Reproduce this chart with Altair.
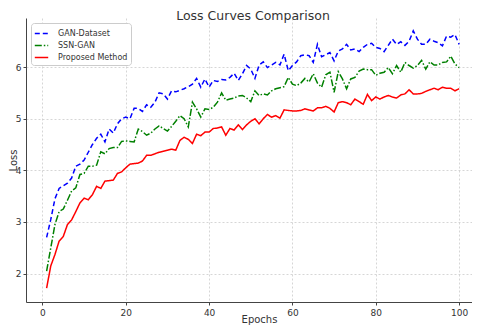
import altair as alt
import pandas as pd

epochs = list(range(1, 101))

gan_dataset = [
    2.70, 3.05, 3.45, 3.65, 3.70, 3.75, 3.85, 4.08, 4.12, 4.20,
    4.35, 4.50, 4.62, 4.70, 4.55, 4.80, 4.72, 4.90, 5.00, 5.03,
    5.00, 5.20, 5.20, 5.14, 5.27, 5.22, 5.32, 5.50, 5.48, 5.38,
    5.54, 5.52, 5.55, 5.58, 5.62, 5.67, 5.78, 5.61, 5.77, 5.61,
    5.74, 5.72, 5.76, 5.75, 5.80, 5.88, 5.74, 5.87, 6.03, 5.96,
    5.78, 6.04, 6.10, 5.99, 6.04, 6.09, 6.04, 6.25, 5.93, 6.03,
    6.10, 6.22, 6.24, 6.22, 6.09, 6.44, 6.20, 6.24, 6.28, 6.12,
    6.31, 6.35, 6.44, 6.33, 6.35, 6.30, 6.38, 6.44, 6.46, 6.38,
    6.36, 6.30, 6.42, 6.54, 6.44, 6.49, 6.42, 6.50, 6.70, 6.54,
    6.44, 6.44, 6.54, 6.50, 6.47, 6.41, 6.60, 6.58, 6.63, 6.44,
]

ssn_gan = [
    2.05, 2.50, 2.95, 3.20, 3.25, 3.42, 3.60, 3.66, 3.92, 3.94,
    4.08, 4.08, 4.10, 4.36, 4.32, 4.42, 4.44, 4.44, 4.56, 4.57,
    4.56, 4.55, 4.80, 4.75, 4.68, 4.72, 4.80, 4.86, 4.81, 4.76,
    4.85, 4.95, 5.06, 5.00, 4.84, 5.32, 5.19, 5.03, 5.19, 5.18,
    5.22, 5.32, 5.50, 5.36, 5.38, 5.40, 5.44, 5.45, 5.40, 5.33,
    5.54, 5.45, 5.48, 5.46, 5.54, 5.58, 5.60, 5.62, 5.80, 5.67,
    5.64, 5.69, 5.78, 5.71, 5.87, 5.69, 5.61, 5.85, 5.90, 5.51,
    5.91, 5.77, 5.58, 5.77, 5.80, 5.92, 5.96, 5.95, 5.95, 5.84,
    5.88, 5.90, 5.99, 5.87, 6.03, 5.90, 6.09, 6.03, 5.98, 6.03,
    6.13, 5.96, 6.10, 6.04, 6.04, 6.09, 6.10, 6.21, 6.06, 5.99,
]

proposed = [
    1.72, 2.15, 2.37, 2.63, 2.72, 2.95, 3.04, 3.20, 3.37, 3.46,
    3.43, 3.53, 3.69, 3.65, 3.79, 3.80, 3.81, 3.94, 3.97, 4.05,
    4.12, 4.13, 4.14, 4.18, 4.29, 4.29, 4.32, 4.35, 4.37, 4.39,
    4.41, 4.39, 4.58, 4.64, 4.60, 4.52, 4.70, 4.67, 4.74, 4.74,
    4.81, 4.82, 4.84, 4.68, 4.81, 4.78, 4.88, 4.79, 4.88, 4.95,
    5.00, 4.90, 5.00, 5.08, 5.03, 5.06, 5.01, 5.17, 5.16, 5.15,
    5.15, 5.16, 5.19, 5.17, 5.15, 5.21, 5.21, 5.24, 5.20, 5.13,
    5.31, 5.33, 5.31, 5.27, 5.38, 5.33, 5.28, 5.47, 5.35, 5.42,
    5.38, 5.42, 5.45, 5.42, 5.40, 5.46, 5.48, 5.56, 5.48, 5.48,
    5.49, 5.53, 5.56, 5.59, 5.56, 5.61, 5.59, 5.59, 5.54, 5.58,
]

series_names = ["GAN-Dataset", "SSN-GAN", "Proposed Method"]
series_colors = ["#0000ff", "#008000", "#ff0000"]
series_dashes = [[5, 3], [7, 2, 1.5, 2], [1, 0]]
x_ticks = [0, 20, 40, 60, 80, 100]
y_ticks = [2, 3, 4, 5, 6]

rows = []
for name, vals in zip(series_names, [gan_dataset, ssn_gan, proposed]):
    for e, v in zip(epochs, vals):
        rows.append({"Epoch": e, "Loss": v, "Series": name})
df = pd.DataFrame(rows)

FONT = "DejaVu Sans"
PLOT_W = 446
PLOT_H = 284
legend = alt.Legend(
    title=None,
    orient="top-left",
    offset=5,
    padding=3,
    labelFontSize=8,
    labelFont=FONT,
    labelColor="#333333",
    labelOffset=9,
    symbolSize=180,
    symbolStrokeWidth=1.5,
    rowPadding=0,
    strokeColor="#cccccc",
    fillColor="white",
    cornerRadius=3,
)

chart = (
    alt.Chart(df)
    .mark_line(strokeWidth=1.5)
    .encode(
        x=alt.X(
            "Epoch:Q",
            scale=alt.Scale(domain=[-3.95, 103.1], nice=False, zero=False),
            axis=alt.Axis(
                values=x_ticks,
                title="Epochs",
                format="d",
                labelPadding=3,
                titleX=233,
                titleY=20,
                titleBaseline="alphabetic",
            ),
        ),
        y=alt.Y(
            "Loss:Q",
            scale=alt.Scale(domain=[1.45, 6.95], nice=False, zero=False),
            axis=alt.Axis(
                values=y_ticks,
                title="Loss",
                format="d",
                titleX=-18,
                titleY=PLOT_H / 2,
                titleBaseline="top",
                titleAngle=270,
            ),
        ),
        color=alt.Color(
            "Series:N",
            scale=alt.Scale(domain=series_names, range=series_colors),
            legend=legend,
        ),
        strokeDash=alt.StrokeDash(
            "Series:N",
            scale=alt.Scale(domain=series_names, range=series_dashes),
            legend=legend,
        ),
    )
    .properties(
        width=PLOT_W,
        height=PLOT_H,
        title=alt.TitleParams(
            "Loss Curves Comparison",
            fontSize=12.5,
            font=FONT,
            fontWeight="normal",
            color="#333333",
            anchor="middle",
            baseline="alphabetic",
            offset=0,
            dy=14,
            dx=4,
        ),
        autosize=alt.AutoSizeParams(type="none"),
        padding={"left": 18, "top": 10, "right": 0, "bottom": 23},
    )
    .configure_view(stroke=None)
    .configure_axis(
        labelFont=FONT,
        titleFont=FONT,
        labelFontSize=9,
        titleFontSize=10,
        titleFontWeight="normal",
        labelColor="#333333",
        titleColor="#333333",
        domainColor="#444444",
        domainWidth=1,
        tickColor="#444444",
        tickSize=3,
        labelPadding=2,
        gridColor="#cccccc",
        gridDash=[2, 2],
        gridWidth=0.8,
    )
)

chart.save("out.html", embed_options={"renderer": "svg", "actions": False})
